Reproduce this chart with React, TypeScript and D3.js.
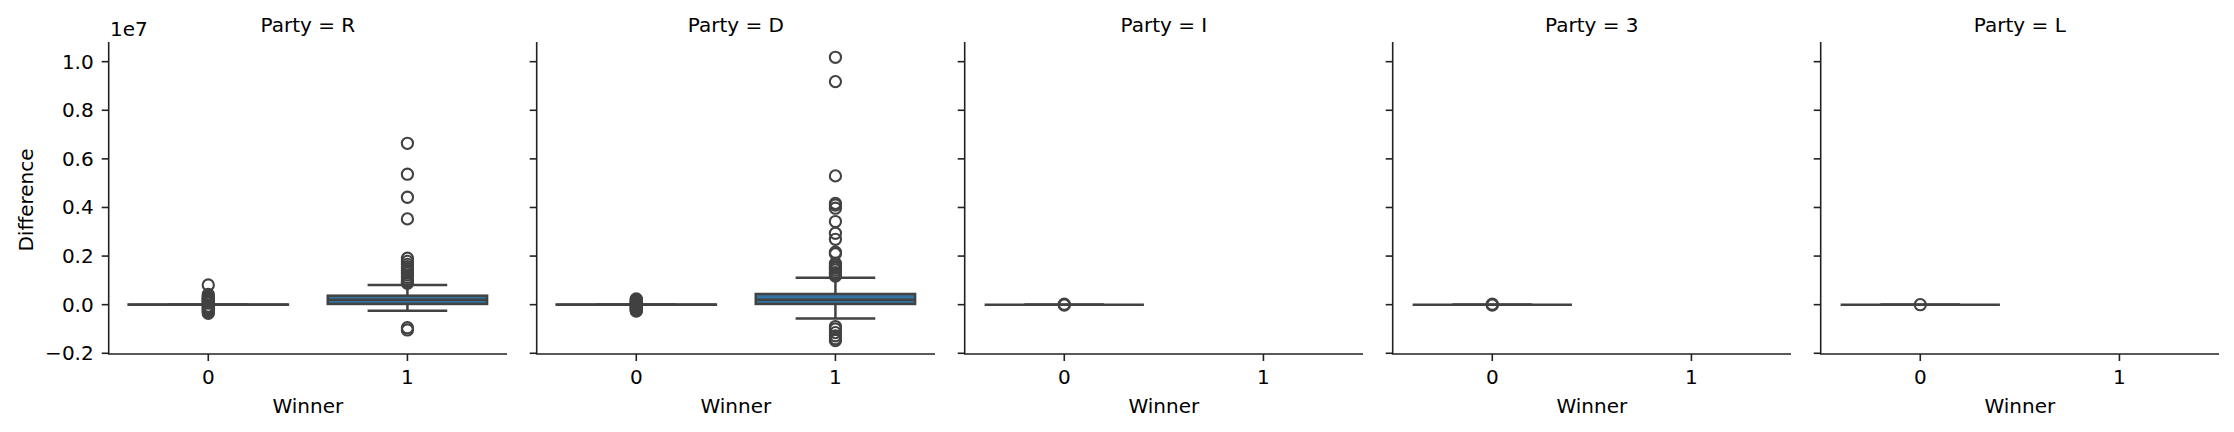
import React from 'react';
import * as d3 from 'd3';

// facets and categories
const parties = ['R', 'D', 'I', '3', 'L'];
const winners = ['0', '1'];
const yTicks = [-2e6, 0, 2e6, 4e6, 6e6, 8e6, 1e7];

// box statistics, one entry per drawn box
const boxParty = ['R', 'R', 'D', 'D', 'I', '3', 'L'];
const boxWinner = ['0', '1', '0', '1', '0', '0', '0'];
const boxQ1 = [0, 30000, 0, 30000, 0, 0, 0];
const boxMedian = [0, 200000, 0, 200000, 0, 0, 0];
const boxQ3 = [6000, 370000, 6000, 440000, 0, 0, 0];
const whiskerLow = [0, -250000, 0, -570000, 0, 0, 0];
const whiskerHigh = [0, 810000, 0, 1110000, 0, 0, 0];

// outliers per box (same order as above)
const outliersR0 = [810000, 420000, 360000, 300000, 260000, 220000, 180000, 140000, 100000, 60000,
    -60000, -100000, -140000, -180000, -220000, -260000, -300000, -360000];
const outliersR1 = [6640000, 5370000, 4420000, 3530000, 1910000, 1780000, 1660000, 1560000, 1480000,
    1400000, 1300000, 1220000, 1120000, 1020000, 950000, 880000, -950000, -1040000];
const outliersD0 = [240000, 210000, 180000, 150000, 120000, 90000, 60000, 30000, -30000, -60000,
    -90000, -120000, -150000, -180000, -210000, -240000, -260000];
const outliersD1 = [10180000, 9180000, 5300000, 4170000, 4100000, 3970000, 3420000, 2940000, 2690000,
    2160000, 2090000, 1700000, 1630000, 1560000, 1500000, 1420000, 1320000, 1250000, 1180000,
    -900000, -1000000, -1150000, -1280000, -1400000, -1480000];
const outliersI0 = [20000, -20000];
const outliers30 = [20000, -20000];
const outliersL0 = [0];
const boxOutliers = [outliersR0, outliersR1, outliersD0, outliersD1, outliersI0, outliers30, outliersL0];

const W = 2234;
const H = 432;
const panelLeft = 108.7;
const panelStep = 428;
const panelWidth = 398.3;
const plotTop = 42;
const plotBottom = 354;

const boxFill = '#3274a1';
const lineColor = '#424242';
const axisColor = '#222';
const font = '"DejaVu Sans", sans-serif';

const y = d3.scaleLinear().domain([-2.03e6, 1.081e7]).range([plotBottom, plotTop]);
const x = d3.scaleBand().domain(winners).range([0, panelWidth]).padding(0);
const fmt = d3.format('.1f');

const Panel: React.FC<{ party: string; index: number }> = ({ party, index }) => {
    const left = panelLeft + index * panelStep;
    const bw = x.bandwidth();
    const boxes = boxParty.map((p, i) => i).filter(i => boxParty[i] === party);
    return (
        <g transform={`translate(${left},0)`}>
            <text x={panelWidth / 2} y={31.7} textAnchor="middle">Party = {party}</text>
            {boxes.map(i => {
                const cx = (x(boxWinner[i]) as number) + bw / 2;
                const half = bw * 0.4;
                const cap = bw * 0.2;
                return (
                    <g key={i}>
                        <line x1={cx} x2={cx} y1={y(boxQ3[i])} y2={y(whiskerHigh[i])} stroke={lineColor} strokeWidth={2.5} />
                        <line x1={cx} x2={cx} y1={y(boxQ1[i])} y2={y(whiskerLow[i])} stroke={lineColor} strokeWidth={2.5} />
                        <line x1={cx - cap} x2={cx + cap} y1={y(whiskerHigh[i])} y2={y(whiskerHigh[i])} stroke={lineColor} strokeWidth={2.5} />
                        <line x1={cx - cap} x2={cx + cap} y1={y(whiskerLow[i])} y2={y(whiskerLow[i])} stroke={lineColor} strokeWidth={2.5} />
                        <rect x={cx - half} width={half * 2} y={y(boxQ3[i])} height={Math.max(0, y(boxQ1[i]) - y(boxQ3[i]))}
                            fill={boxFill} stroke={lineColor} strokeWidth={2.5} />
                        <line x1={cx - half} x2={cx + half} y1={y(boxMedian[i])} y2={y(boxMedian[i])} stroke={lineColor} strokeWidth={2.5} />
                        {boxOutliers[i].map((v, j) => (
                            <circle key={j} cx={cx} cy={y(v)} r={5.6} fill="none" stroke={lineColor} strokeWidth={2.1} />
                        ))}
                    </g>
                );
            })}
            {/* spines */}
            <line x1={0} x2={0} y1={plotTop} y2={plotBottom} stroke={axisColor} strokeWidth={1.6} />
            <line x1={-0.8} x2={panelWidth} y1={plotBottom} y2={plotBottom} stroke={axisColor} strokeWidth={1.6} />
            {yTicks.map(t => (
                <g key={t}>
                    <line x1={-7} x2={0} y1={y(t)} y2={y(t)} stroke={axisColor} strokeWidth={1.6} />
                    {index === 0 && (
                        <text x={-15} y={y(t) + 7} textAnchor="end">{fmt(t / 1e7)}</text>
                    )}
                </g>
            ))}
            {winners.map(w => {
                const cx = (x(w) as number) + bw / 2;
                return (
                    <g key={w}>
                        <line x1={cx} x2={cx} y1={plotBottom} y2={plotBottom + 7} stroke={axisColor} strokeWidth={1.6} />
                        <text x={cx} y={384.3} textAnchor="middle">{w}</text>
                    </g>
                );
            })}
            <text x={panelWidth / 2} y={412.7} textAnchor="middle">Winner</text>
            {index === 0 && <text x={1.3} y={36} textAnchor="start">1e7</text>}
        </g>
    );
};

export default function App() {
    return (
        <div style={{ position: 'absolute', left: 0, top: 0 }}>
            <svg width={W} height={H} style={{ display: 'block', background: '#fff' }}
                fontFamily={font} fontSize={20} fill="#000">
                <rect width={W} height={H} fill="#fff" />
                <text transform={`translate(32.5,200) rotate(-90)`} textAnchor="middle">Difference</text>
                {parties.map((p, i) => <Panel key={p} party={p} index={i} />)}
            </svg>
        </div>
    );
}
